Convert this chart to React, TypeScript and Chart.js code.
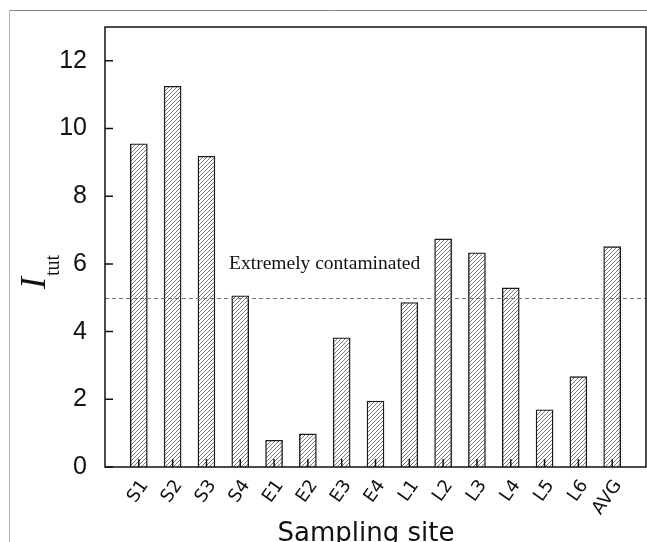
import React, { useEffect, useRef } from 'react';
import { Chart, registerables } from 'chart.js';

Chart.register(...registerables);

const sites = ['S1', 'S2', 'S3', 'S4', 'E1', 'E2', 'E3', 'E4', 'L1', 'L2', 'L3', 'L4', 'L5', 'L6', 'AVG'];
const itutValues = [9.55, 11.25, 9.18, 5.06, 0.79, 0.98, 3.82, 1.95, 4.86, 6.74, 6.33, 5.29, 1.69, 2.67, 6.51];
const yTicks = [0, 2, 4, 6, 8, 10, 12];
const yMax = 13;
const threshold = 5;
const thresholdLabel = 'Extremely contaminated';
const xTitle = 'Sampling site';
const yTitleMain = 'I';
const yTitleSub = 'tut';

function makeHatch(): CanvasPattern | string {
  const c = document.createElement('canvas');
  c.width = 4;
  c.height = 4;
  const g = c.getContext('2d');
  if (!g) return '#ddd';
  g.fillStyle = '#ffffff';
  g.fillRect(0, 0, 4, 4);
  g.fillStyle = '#7a7a7a';
  for (let i = 0; i < 4; i++) g.fillRect(3 - i, i, 1, 1);
  const p = g.createPattern(c, 'repeat');
  return p || '#ddd';
}

export default function App() {
  const ref = useRef<HTMLCanvasElement | null>(null);
  useEffect(() => {
    const canvas = ref.current;
    if (!canvas) return;
    const labels = ['', ...sites, ''];
    const data = [null, ...itutValues, null];

    const deco = {
      id: 'deco',
      beforeDraw(chart: any) {
        const ctx = chart.ctx;
        ctx.save();
        ctx.fillStyle = '#fff';
        ctx.fillRect(0, 0, chart.width, chart.height);
        ctx.lineWidth = 1;
        ctx.strokeStyle = '#b5b5b5';
        ctx.beginPath();
        ctx.moveTo(9.5, chart.height);
        ctx.lineTo(9.5, 10.5);
        ctx.stroke();
        ctx.strokeStyle = '#8a8a8a';
        ctx.beginPath();
        ctx.moveTo(9.5, 10.5);
        ctx.lineTo(chart.width, 10.5);
        ctx.stroke();
        ctx.restore();
      },
      afterDraw(chart: any) {
        const ctx = chart.ctx;
        const a = chart.chartArea;
        const xs = chart.scales.x;
        const ys = chart.scales.y;
        ctx.save();
        // threshold dashed line
        const ty = ys.getPixelForValue(threshold);
        ctx.strokeStyle = '#777';
        ctx.lineWidth = 1;
        ctx.setLineDash([4, 3]);
        ctx.beginPath();
        ctx.moveTo(a.left, Math.round(ty) + 0.5);
        ctx.lineTo(a.right, Math.round(ty) + 0.5);
        ctx.stroke();
        ctx.setLineDash([]);
        // frame
        ctx.strokeStyle = '#111';
        ctx.lineWidth = 1.5;
        ctx.strokeRect(a.left, a.top, a.right - a.left, a.bottom - a.top);
        // y ticks inward
        ctx.beginPath();
        yTicks.forEach((v) => {
          const y = ys.getPixelForValue(v);
          ctx.moveTo(a.left, y);
          ctx.lineTo(a.left + 8, y);
        });
        // x ticks inward
        for (let i = 1; i <= sites.length; i++) {
          const x = xs.getPixelForValue(i);
          ctx.moveTo(x, a.bottom);
          ctx.lineTo(x, a.bottom - 8);
        }
        ctx.stroke();
        // threshold label
        ctx.fillStyle = '#111';
        ctx.font = "19.5px 'Liberation Serif', 'Times New Roman', serif";
        ctx.textAlign = 'left';
        ctx.textBaseline = 'alphabetic';
        ctx.fillText(thresholdLabel, xs.getPixelForValue(3.67), ys.getPixelForValue(5.84));
        // x title
        ctx.font = "26px 'DejaVu Sans', Verdana, sans-serif";
        ctx.textAlign = 'center';
        ctx.fillText(xTitle, 366, 541);
        // y title
        ctx.translate(45, 289);
        ctx.rotate(-Math.PI / 2);
        ctx.textAlign = 'left';
        ctx.font = "italic 36px 'Liberation Serif', 'Times New Roman', serif";
        ctx.fillText(yTitleMain, 0, 0);
        const w = ctx.measureText(yTitleMain).width;
        ctx.font = "20px 'Liberation Serif', 'Times New Roman', serif";
        ctx.fillText(yTitleSub, w + 1, 14);
        ctx.restore();
      },
    };

    const chart = new Chart(canvas, {
      type: 'bar',
      data: {
        labels,
        datasets: [
          {
            data: data as any,
            backgroundColor: makeHatch() as any,
            borderColor: '#1a1a1a',
            borderWidth: 1.4,
            barThickness: 17,
          },
        ],
      },
      options: {
        responsive: false,
        animation: false,
        layout: { padding: { top: 27, right: 1, left: 0, bottom: 0 } },
        plugins: { legend: { display: false }, tooltip: { enabled: false } },
        scales: {
          x: {
            type: 'category',
            offset: false,
            grid: { display: false },
            border: { display: false },
            ticks: {
              autoSkip: false,
              minRotation: 55,
              maxRotation: 55,
              padding: 1,
              labelOffset: 6,
              color: '#111',
              font: { family: "'DejaVu Sans', Verdana, sans-serif", size: 18 },
              callback: (_v: any, i: number) => labels[i],
            },
            afterFit: (s: any) => {
              s.height = 75;
              s.paddingLeft = 0;
              s.paddingRight = 0;
            },
          },
          y: {
            min: 0,
            max: yMax,
            grid: { display: false },
            border: { display: false },
            ticks: {
              padding: 10,
              color: '#111',
              font: { family: "'Liberation Sans', Arial, sans-serif", size: 25 },
            },
            afterBuildTicks: (s: any) => {
              s.ticks = yTicks.map((v) => ({ value: v }));
            },
            afterFit: (s: any) => {
              s.width = 105;
              s.paddingTop = 0;
              s.paddingBottom = 0;
            },
          },
        },
      },
      plugins: [deco],
    });
    return () => chart.destroy();
  }, []);

  return (
    <div style={{ position: 'fixed', left: 0, top: 0, width: 647, height: 542, overflow: 'hidden', background: '#fff' }}>
      <canvas ref={ref} width={647} height={542} style={{ display: 'block', width: 647, height: 542 }} />
    </div>
  );
}
